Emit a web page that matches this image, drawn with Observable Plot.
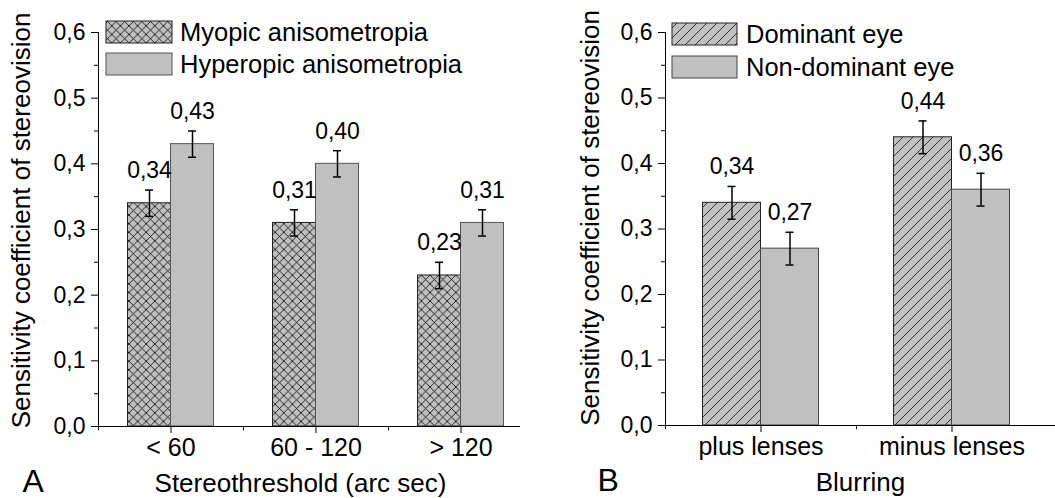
<!DOCTYPE html>
<html><head><meta charset="utf-8">
<script src="https://cdn.jsdelivr.net/npm/d3@7"></script>
<script src="https://cdn.jsdelivr.net/npm/@observablehq/plot@0.6"></script>
<style>
html,body{margin:0;padding:0;background:#fff;}
#wrap{display:flex;width:1055px;height:498px;overflow:hidden;}
#a{width:520px;height:498px;overflow:hidden;flex:0 0 520px;}
#b{width:535px;height:498px;overflow:hidden;flex:0 0 535px;}
svg text{font-family:"Liberation Sans",Arial,sans-serif;}
</style></head><body>
<svg width="0" height="0" style="position:absolute">
<defs>
<pattern id="cross" patternUnits="userSpaceOnUse" width="8.6" height="8.6">
 <rect width="8.6" height="8.6" fill="#c0c0c0"/>
 <path d="M0,0L8.6,8.6M8.6,0L0,8.6" stroke="#000" stroke-width="0.8"/>
</pattern>
<pattern id="hatch" patternUnits="userSpaceOnUse" width="10" height="10">
 <rect width="10" height="10" fill="#c0c0c0"/>
 <path d="M-1,11L11,-1M-6,6L6,-6M4,16L16,4" stroke="#222" stroke-width="0.9"/>
</pattern>
</defs></svg>
<div id="wrap"><div id="a"></div><div id="b"></div></div>
<script>
// ---- Data ----
const catsA = ["< 60", "60 - 120", "> 120"];
const seriesA = ["Myopic anisometropia", "Hyperopic anisometropia"];
const myopic = [0.34, 0.31, 0.23];
const myopicErr = [0.02, 0.02, 0.02];
const hyperopic = [0.43, 0.40, 0.31];
const hyperopicErr = [0.02, 0.02, 0.02];

const catsB = ["plus lenses", "minus lenses"];
const seriesB = ["Dominant eye", "Non-dominant eye"];
const dominant = [0.34, 0.44];
const dominantErr = [0.025, 0.025];
const nondominant = [0.27, 0.36];
const nondominantErr = [0.025, 0.025];

const yTicks = [0, 0.1, 0.2, 0.3, 0.4, 0.5, 0.6];
const yMinor = [0.05, 0.15, 0.25, 0.35, 0.45, 0.55];
const yTitle = "Sensitivity coefficient of stereovision";
const xTitleA = "Stereothreshold (arc sec)";
const xTitleB = "Blurring";

const comma = (d, n) => d.toFixed(n).replace(".", ",");
const FONT = '"Liberation Sans", Arial, sans-serif';

function panel(cfg) {
  const {cats, left, leftErr, right, rightErr, width, mL, mT, mB, step, bw,
         leftFill, leftStroke, rightStroke, yTitleDx, yTitleDy, xTitle, xTitleDx, letter, letterDx} = cfg;
  const L = cats.map((c, i) => ({cat: c, v: left[i], e: leftErr[i]}));
  const R = cats.map((c, i) => ({cat: c, v: right[i], e: rightErr[i]}));
  const half = step / 2;
  const outer = half - bw;
  const cap = 4;
  const marks = [
    Plot.barY(L, {x: "cat", y: "v", fill: leftFill, stroke: leftStroke, strokeWidth: 1, insetLeft: outer, insetRight: half}),
    Plot.barY(R, {x: "cat", y: "v", fill: "#c0c0c0", stroke: rightStroke, strokeWidth: 1, insetLeft: half, insetRight: outer}),
    Plot.ruleY([0], {stroke: "#000", strokeWidth: 1}),
    Plot.ruleX(cats, {x: d => d, y1: 0, y2: -0.0065, dx: -half, stroke: "#000"}),
    Plot.tickY(yMinor, {x: () => cats[0], y: d => d, insetRight: step - 4, dx: -4, stroke: "#000"}),
    // error bars
    Plot.ruleX(L, {x: "cat", y1: d => d.v - d.e, y2: d => d.v + d.e, dx: -bw / 2, stroke: "#000", strokeWidth: 1.5}),
    Plot.ruleX(R, {x: "cat", y1: d => d.v - d.e, y2: d => d.v + d.e, dx: bw / 2, stroke: "#000", strokeWidth: 1.5}),
    Plot.tickY(L, {x: "cat", y: d => d.v + d.e, insetLeft: outer + bw / 2 - cap, insetRight: half + bw / 2 - cap, stroke: "#000", strokeWidth: 1.5}),
    Plot.tickY(L, {x: "cat", y: d => d.v - d.e, insetLeft: outer + bw / 2 - cap, insetRight: half + bw / 2 - cap, stroke: "#000", strokeWidth: 1.5}),
    Plot.tickY(R, {x: "cat", y: d => d.v + d.e, insetLeft: half + bw / 2 - cap, insetRight: outer + bw / 2 - cap, stroke: "#000", strokeWidth: 1.5}),
    Plot.tickY(R, {x: "cat", y: d => d.v - d.e, insetLeft: half + bw / 2 - cap, insetRight: outer + bw / 2 - cap, stroke: "#000", strokeWidth: 1.5}),
    // value labels
    Plot.text(L, {x: "cat", y: d => d.v + d.e, text: d => comma(d.v, 2), dx: -bw / 2, dy: -12, lineAnchor: "bottom", fontSize: 23, fill: "#000"}),
    Plot.text(R, {x: "cat", y: d => d.v + d.e, text: d => comma(d.v, 2), dx: bw / 2, dy: -12, lineAnchor: "bottom", fontSize: 23, fill: "#000"}),
    // titles
    Plot.text([yTitle], {frameAnchor: "left", text: d => d, rotate: -90, dx: yTitleDx, dy: yTitleDy, textAnchor: "middle", lineAnchor: "middle", fontSize: 26, fill: "#000"}),
    Plot.text([xTitle], {frameAnchor: "bottom", text: d => d, dx: xTitleDx, dy: 47, textAnchor: "middle", lineAnchor: "top", fontSize: 26, fill: "#000"}),
    Plot.text([letter], {frameAnchor: "bottom-left", text: d => d, dx: letterDx, dy: 43, lineAnchor: "top", textAnchor: "start", fontSize: 32, fill: "#000"})
  ];
  const svg = Plot.plot({
    width, height: 498,
    marginLeft: mL, marginRight: 0, marginTop: mT, marginBottom: mB,
    style: {fontFamily: FONT, fontSize: "23px", color: "#000", background: "#fff", overflow: "hidden"},
    x: {domain: cats, range: [mL, mL + cats.length * step], padding: 0, tickSize: 7, tickPadding: 5, label: null},
    y: {domain: [0, 0.6], ticks: yTicks, tickFormat: d => comma(d, 1), tickSize: 7, tickPadding: 6, line: true, label: null},
    marks
  });
  d3.select(svg).selectAll('[aria-label="x-axis"] text, [aria-label="x-axis tick label"] text').style("font-size", "25px");
  return svg;
}

function legend(svg, names, fills, strokes, x0, y0, sw, sh, gap, tx) {
  const g = d3.select(svg).append("g").attr("aria-label", "legend").attr("text-anchor", "start");
  names.forEach((n, i) => {
    g.append("rect").attr("x", x0).attr("y", y0 + i * gap).attr("width", sw).attr("height", sh)
      .attr("fill", fills[i]).attr("stroke", strokes[i]).attr("stroke-width", 1);
    g.append("text").attr("x", tx).attr("y", y0 + i * gap + sh - 2).attr("text-anchor", "start")
      .attr("font-size", 25.5).attr("font-family", FONT).attr("fill", "#000").text(n);
  });
}

const svgA = panel({cats: catsA, left: myopic, leftErr: myopicErr, right: hyperopic, rightErr: hyperopicErr,
  width: 520, mL: 98, mT: 32, mB: 72, step: 145, bw: 43, leftFill: "url(#cross)", leftStroke: "#222", rightStroke: "#555",
  yTitleDx: -77, yTitleDy: -9, xTitle: xTitleA, xTitleDx: -9, letter: "A", letterDx: -76});
legend(svgA, seriesA, ["url(#cross)", "#c0c0c0"], ["#222", "#555"], 106, 21, 66, 22, 32, 180);
document.getElementById("a").appendChild(svgA);

const svgB = panel({cats: catsB, left: dominant, leftErr: dominantErr, right: nondominant, rightErr: nondominantErr,
  width: 535, mL: 145, mT: 32, mB: 73, step: 191, bw: 58, leftFill: "url(#hatch)", leftStroke: "#222", rightStroke: "#444",
  yTitleDx: -75, yTitleDy: -11, xTitle: xTitleB, xTitleDx: 0, letter: "B", letterDx: -68});
legend(svgB, seriesB, ["url(#hatch)", "#c0c0c0"], ["#222", "#444"], 152, 23, 65, 22, 33, 226);
document.getElementById("b").appendChild(svgB);
</script>
</body></html>
